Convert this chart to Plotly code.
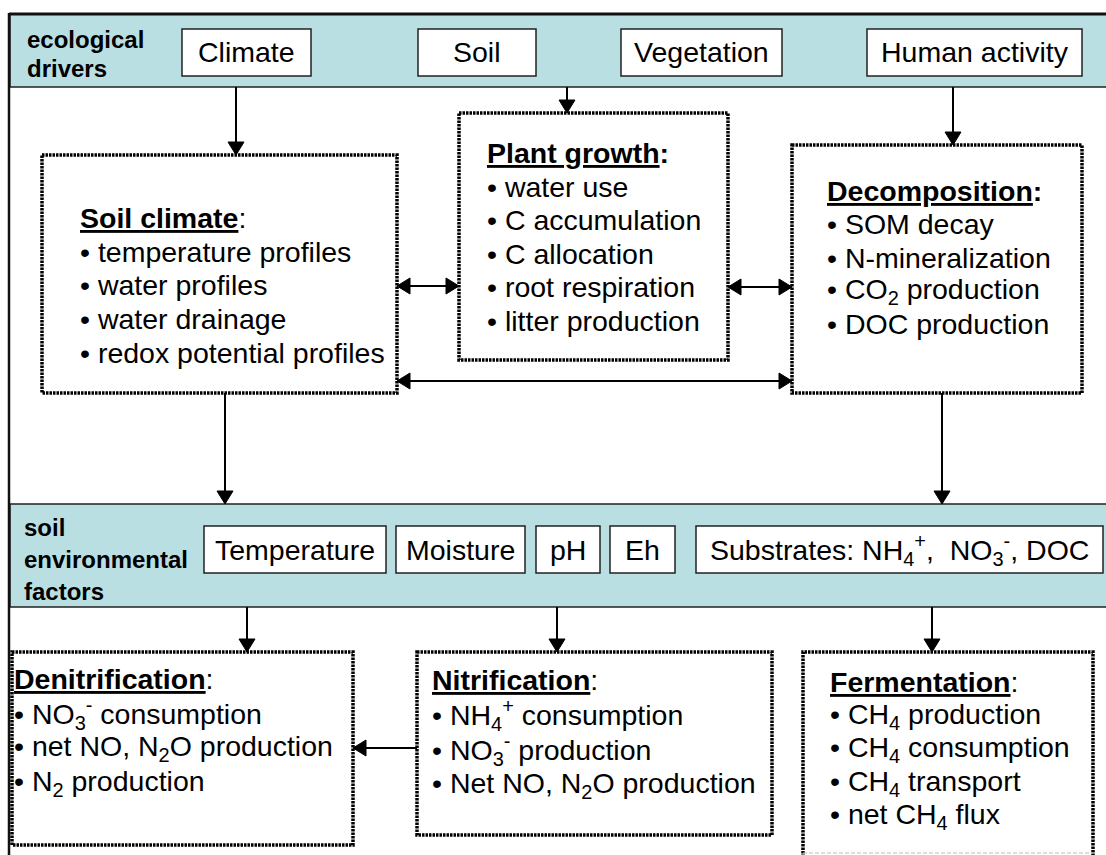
import math
import plotly.graph_objects as go

# ---- text content ----
driver_title = ["ecological", "drivers"]
drivers = ["Climate", "Soil", "Vegetation", "Human activity"]

factor_title = ["soil", "environmental", "factors"]
factors = ["Temperature", "Moisture", "pH", "Eh",
           "Substrates: NH<sub>4</sub><sup>+</sup>,  NO<sub>3</sub><sup>-</sup>, DOC"]

process_titles = ["Soil climate", "Plant growth", "Decomposition",
                  "Denitrification", "Nitrification", "Fermentation"]
colon_bold = [False, True, True, False, False, False]
process_items = [
    ["temperature profiles", "water profiles", "water drainage",
     "redox potential profiles"],
    ["water use", "C accumulation", "C allocation", "root respiration",
     "litter production"],
    ["SOM decay", "N-mineralization", "CO<sub>2</sub> production",
     "DOC production"],
    ["NO<sub>3</sub><sup>-</sup> consumption", "net NO, N<sub>2</sub>O production",
     "N<sub>2</sub> production"],
    ["NH<sub>4</sub><sup>+</sup> consumption", "NO<sub>3</sub><sup>-</sup> production",
     "Net NO, N<sub>2</sub>O production"],
    ["CH<sub>4</sub> production", "CH<sub>4</sub> consumption",
     "CH<sub>4</sub> transport", "net CH<sub>4</sub> flux"],
]

# ---- layout geometry (pixels, y downwards) ----
W, H = 1106, 855
FONT = "Liberation Sans, Arial, sans-serif"
BAND = "#BADFE3"
DOT = "2.5px,1px"

driver_boxes = [(182, 311), (418, 536), (621, 782), (867, 1082)]
driver_box_y = (29, 76)
factor_boxes = [(204, 386), (396, 525), (536, 600), (610, 675), (696, 1103)]
factor_box_y = (526, 573)

# (x0, x1, y0, y1) of dotted process boxes, text x, heading y, line step
process_boxes = [(42, 397, 155, 393), (459, 728, 113, 360), (792, 1082, 145, 393),
                 (12, 353, 652, 845), (417, 772, 652, 835), (803, 1093, 652, 855)]
process_text = [(78, 218, 33.7), (485, 153, 33.5), (825, 191, 33.3),
                (12, 679, 34.5), (430, 680, 35), (828, 682, 33.5)]

fig = go.Figure()
shapes = []
annotations = []


def text(x, y, s, size=28.5, bold=False, anchor="left"):
    if bold:
        s = "<b>" + s + "</b>"
    annotations.append(dict(x=x, y=y, xref="x", yref="y", text=s, showarrow=False,
                            xanchor=anchor, yanchor="middle",
                            font=dict(family=FONT, size=size, color="black")))


def rect(x0, y0, x1, y1, fill="white", color="#222", width=1.5, dash=None):
    shapes.append(dict(type="rect", xref="x", yref="y", x0=x0, y0=y0, x1=x1, y1=y1,
                       fillcolor=fill, line=dict(color=color, width=width, dash=dash)))


def line(x0, y0, x1, y1, color="black", width=2, dash=None):
    shapes.append(dict(type="line", xref="x", yref="y", x0=x0, y0=y0, x1=x1, y1=y1,
                       line=dict(color=color, width=width, dash=dash)))


def head(xt, yt, ux, uy, length=13, half=8):
    bx, by = xt - ux * length, yt - uy * length
    px, py = -uy * half, ux * half
    path = "M {} {} L {} {} L {} {} Z".format(xt, yt, bx + px, by + py, bx - px, by - py)
    shapes.append(dict(type="path", xref="x", yref="y", path=path,
                       fillcolor="black", line=dict(color="black", width=1)))


def arrow(x0, y0, x1, y1, both=False):
    d = math.hypot(x1 - x0, y1 - y0)
    ux, uy = (x1 - x0) / d, (y1 - y0) / d
    sx, sy = x0, y0
    if both:
        head(x0, y0, -ux, -uy)
        sx, sy = x0 + ux * 12, y0 + uy * 12
    head(x1, y1, ux, uy)
    line(sx, sy, x1 - ux * 12, y1 - uy * 12)


# bands
rect(10, 14, W + 5, 87, fill=BAND, color="#222", width=1.5)
rect(10, 504, W + 5, 607, fill=BAND, color="#222", width=1.5)
# outer frame
line(9, 13, 9, H + 2, color="#111", width=2.5)
line(9, 14, W + 2, 14, color="#111", width=3)

# band labels
for i, s in enumerate(driver_title):
    text(25, 39 + i * 29, s, size=24, bold=True)
for i, s in enumerate(factor_title):
    text(22, 527 + i * 32, s, size=24, bold=True)

# driver boxes
for (x0, x1), s in zip(driver_boxes, drivers):
    rect(x0, driver_box_y[0], x1, driver_box_y[1])
    text((x0 + x1) / 2, 52, s, anchor="center")

# factor boxes
for (x0, x1), s in zip(factor_boxes, factors):
    rect(x0, factor_box_y[0], x1, factor_box_y[1])
    text((x0 + x1) / 2, 550, s, anchor="center")

# process boxes
for k, (x0, x1, y0, y1) in enumerate(process_boxes):
    if k == 5:
        shapes.append(dict(type="path", xref="x", yref="y",
                           path="M {} {} L {} {} L {} {} L {} {}".format(x0, H + 2, x0, y0, x1, y0, x1, H + 2),
                           line=dict(color="#000", width=3.5, dash=DOT)))
        line(x0, 853, x1, 853, color="#BBBBBB", width=1, dash="4px,2px")
    else:
        rect(x0, y0, x1, y1, fill="rgba(0,0,0,0)", color="#000", width=3.5, dash=DOT)

for k, (tx, ty, step) in enumerate(process_text):
    u = '<span style="text-decoration:underline">' + process_titles[k] + '</span>'
    if colon_bold[k]:
        title = "<b>" + u + ":</b>"
    else:
        title = "<b>" + u + "</b>:"
    text(tx, ty, title)
    for j, item in enumerate(process_items[k]):
        text(tx, ty + (j + 1) * step, "\u2022 " + item)

# arrows
arrow(236, 87, 236, 155)
arrow(567, 87, 567, 113)
arrow(953, 87, 953, 145)
arrow(397, 286, 459, 286, both=True)
arrow(728, 287, 792, 287, both=True)
arrow(397, 381, 792, 381, both=True)
arrow(225, 393, 225, 504)
arrow(942, 393, 942, 504)
arrow(247, 607, 247, 652)
arrow(557, 607, 557, 652)
arrow(932, 607, 932, 652)
arrow(417, 748, 353, 748)

fig.update_layout(
    width=W, height=H,
    margin=dict(l=0, r=0, t=0, b=0),
    paper_bgcolor="white", plot_bgcolor="white",
    xaxis=dict(range=[0, W], visible=False, fixedrange=True),
    yaxis=dict(range=[H, 0], visible=False, fixedrange=True),
    shapes=shapes, annotations=annotations, showlegend=False,
)
fig.write_html("out.html", config={"displayModeBar": False},
               post_script="document.body.style.margin='0';document.body.style.overflow='hidden';")
